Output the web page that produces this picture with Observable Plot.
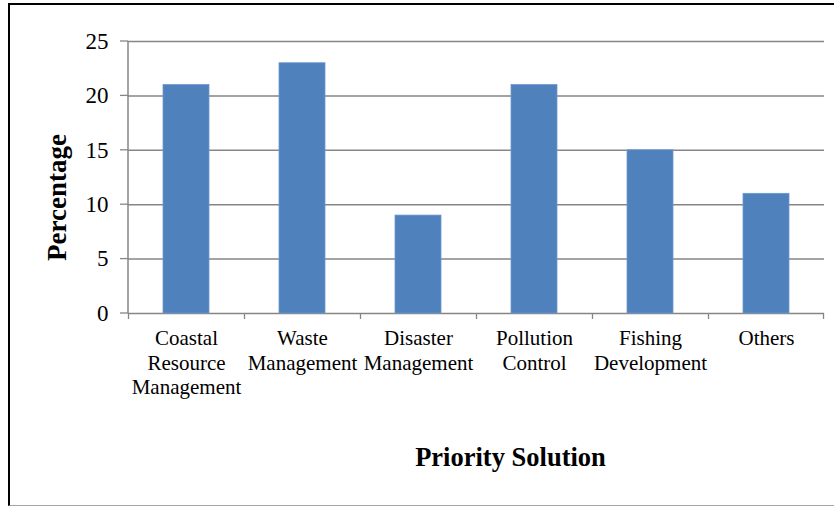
<!DOCTYPE html>
<html>
<head>
<meta charset="utf-8">
<script src="https://cdn.jsdelivr.net/npm/d3@7"></script>
<script src="https://cdn.jsdelivr.net/npm/@observablehq/plot@0.6"></script>
<style>
  html, body { margin: 0; padding: 0; background: #fff; }
  #wrap { position: relative; width: 834px; height: 506px; overflow: hidden; }
  #border {
    position: absolute; left: 8px; top: 3px; width: 840px; height: 500px;
    border-left: 2px solid #000; border-top: 2px solid #000; border-bottom: 1px solid #a6a6a6;
    box-sizing: content-box;
  }
  #chart { position: absolute; left: 0; top: 0; }
</style>
</head>
<body>
<div id="wrap"><div id="border"></div><div id="chart"></div></div>
<script>
const categories = [
  "Coastal\nResource\nManagement",
  "Waste\nManagement",
  "Disaster\nManagement",
  "Pollution\nControl",
  "Fishing\nDevelopment",
  "Others"
];
const percentages = [21, 23, 9, 21, 15, 11];
const yTicks = [0, 5, 10, 15, 20, 25];

const data = categories.map((c, i) => ({category: c, value: percentages[i]}));

const gridColor = "#868686";
const serif = "'Liberation Serif', 'Times New Roman', serif";

// y axis line, left tick marks and the band boundary ticks under the x axis
function axisLines(index, scales, values, dimensions) {
  const g = d3.create("svg:g").attr("stroke", gridColor);
  const {x, y} = scales;
  const left = dimensions.marginLeft;
  const y0 = y(0);
  g.append("line").attr("x1", left).attr("x2", left)
    .attr("y1", y(25)).attr("y2", y0).attr("stroke-width", 1.5);
  for (const t of yTicks) {
    g.append("line").attr("x1", left - 8).attr("x2", left)
      .attr("y1", y(t)).attr("y2", y(t)).attr("stroke-width", 1.3);
  }
  const bw = typeof x.bandwidth === "function" ? x.bandwidth() : x.bandwidth;
  const half = bw * 0.75; // half a step with paddingInner 0.6
  const xs = categories.map(c => x(c) - half);
  xs.push(x(categories[categories.length - 1]) + bw + half);
  for (const px of xs) {
    g.append("line").attr("x1", px).attr("x2", px)
      .attr("y1", y0).attr("y2", y0 + 6).attr("stroke-width", 1.3);
  }
  return g.node();
}

const chart = Plot.plot({
  width: 834,
  height: 506,
  marginLeft: 128,
  marginRight: 10,
  marginTop: 41,
  marginBottom: 193,
  style: {fontFamily: serif, background: "transparent", color: "#000"},
  x: {domain: categories, paddingInner: 0.6, paddingOuter: 0.3},
  y: {domain: [0, 25]},
  marks: [
    Plot.ruleY(yTicks, {stroke: gridColor, strokeWidth: 1.5, strokeOpacity: 1}),
    Plot.barY(data, {x: "category", y: "value", fill: "#4F81BD", stroke: "#6f97cc", strokeWidth: 0.8}),
    Plot.ruleY([0], {render: axisLines}),
    Plot.axisY({ticks: yTicks, tickSize: 0, tickPadding: 20, fontSize: 23, label: null, fill: "#000"}),
    Plot.axisX({tickSize: 0, tickPadding: 14, fontSize: 21, lineHeight: 1.17, label: null, fill: "#000"}),
    Plot.text(["Percentage"], {frameAnchor: "left", textAnchor: "middle", rotate: -90, dx: -71, dy: 20, fontSize: 27, fontWeight: "bold", fill: "#000"}),
    Plot.text(["Priority Solution"], {frameAnchor: "bottom", dx: 34, dy: 152, fontSize: 26.5, fontWeight: "bold", fill: "#000"})
  ]
});

document.getElementById("chart").append(chart);
</script>
</body>
</html>
